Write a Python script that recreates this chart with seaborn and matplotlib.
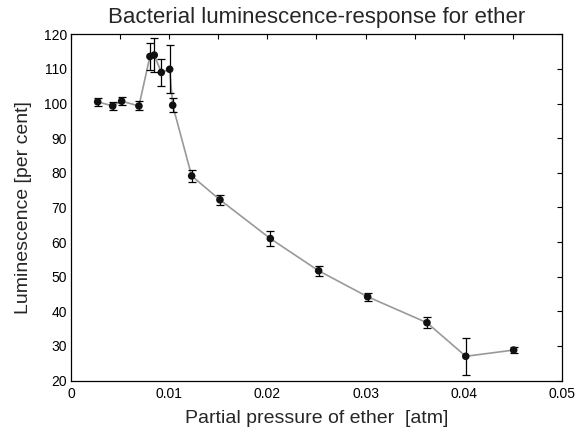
import matplotlib
matplotlib.use("Agg")
import matplotlib.pyplot as plt
import seaborn as sns
import pandas as pd

pressure = [0.00272, 0.00425, 0.00516, 0.00692, 0.00804, 0.00848, 0.0092, 0.01005, 0.01036,
            0.01229, 0.01517, 0.0203, 0.02522, 0.03021, 0.03625, 0.0402, 0.04508]
luminescence = [100.5, 99.3, 100.7, 99.3, 113.6, 114.0, 109.0, 109.9, 99.5,
                79.1, 72.2, 61.0, 51.7, 44.2, 36.7, 27.0, 28.8]
error = [1.1, 1.2, 1.1, 1.3, 3.8, 5.0, 4.0, 6.9, 2.0,
         1.8, 1.5, 2.2, 1.5, 1.2, 1.6, 5.4, 0.9]

df = pd.DataFrame({"p": pressure, "L": luminescence, "e": error})

sns.set_style("white")
plt.rcParams['font.family'] = ['Liberation Sans', 'DejaVu Sans']

fig = plt.figure(figsize=(5.77, 4.29), dpi=100)
ax = fig.add_axes([0.123, 0.113, 0.851, 0.807])

sns.lineplot(data=df, x="p", y="L", ax=ax, color="#999999", lw=1.2, sort=False, zorder=1)
ax.errorbar(df["p"], df["L"], yerr=df["e"], fmt="none", ecolor="black", elinewidth=0.9,
            capsize=3, capthick=0.9, zorder=2)
sns.scatterplot(data=df, x="p", y="L", ax=ax, color="#111111", s=30, edgecolor="none", zorder=3)

ax.set_xlim(0, 0.05)
ax.set_ylim(20, 120)
ax.set_xticks([0, 0.01, 0.02, 0.03, 0.04, 0.05])
ax.set_xticklabels(["0", "0.01", "0.02", "0.03", "0.04", "0.05"])
ax.set_yticks(range(20, 121, 10))
ax.set_xticks([0.005, 0.015, 0.025, 0.035, 0.045], minor=True)
ax.tick_params(which="both", direction="in", top=True, right=True, labelsize=10,
               length=3.5, width=0.8, colors="black")
ax.tick_params(axis="x", which="both", pad=5)
ax.tick_params(axis="y", which="both", pad=3)
for s in ax.spines.values():
    s.set_color("black")
    s.set_linewidth(0.9)

ax.set_title("Bacterial luminescence-response for ether", fontsize=16, pad=8)
ax.set_xlabel("Partial pressure of ether  [atm]", fontsize=14, labelpad=6)
ax.set_ylabel("Luminescence [per cent]", fontsize=14, labelpad=8)

fig.savefig("out.png", dpi=100)
